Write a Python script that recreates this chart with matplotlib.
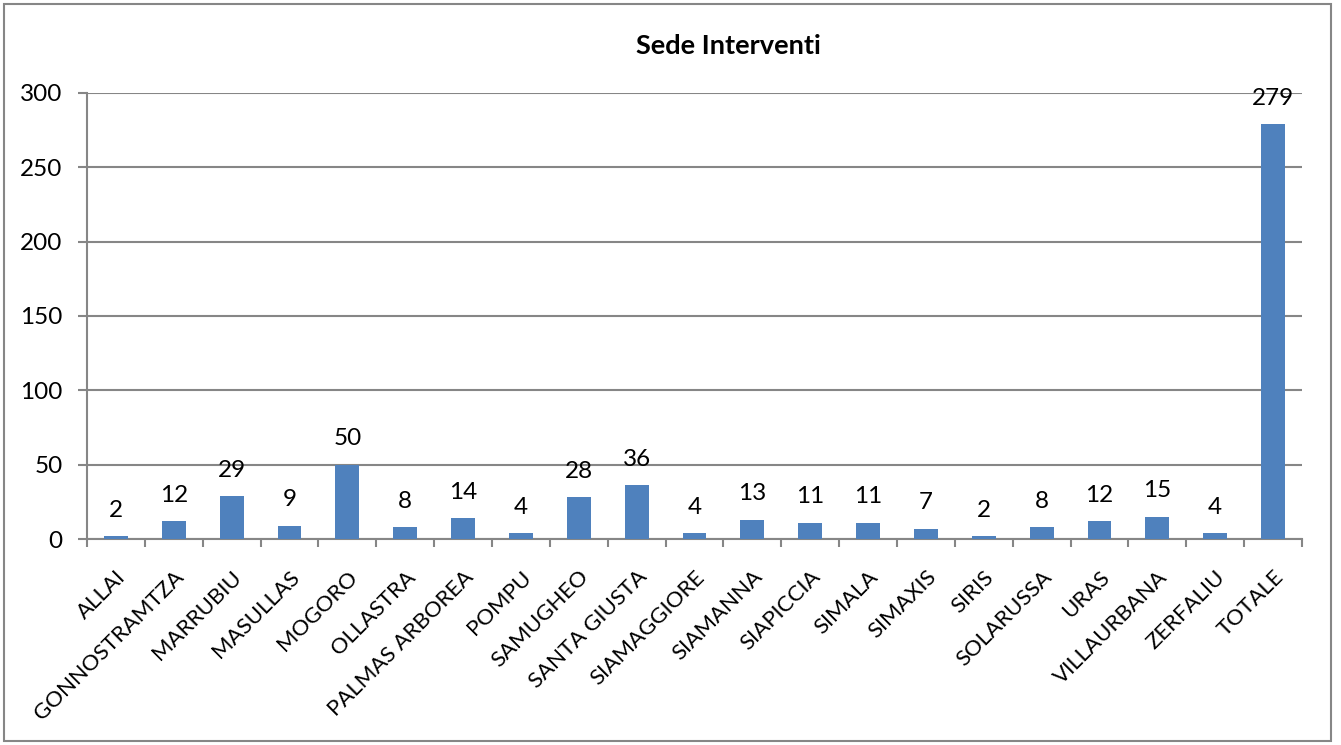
import matplotlib
matplotlib.use("Agg")
import matplotlib.pyplot as plt
from matplotlib.patches import Rectangle
import numpy as np

plt.rcParams['font.family'] = ['Lato', 'DejaVu Sans']

categories = ["ALLAI", "GONNOSTRAMTZA", "MARRUBIU", "MASULLAS", "MOGORO",
              "OLLASTRA", "PALMAS ARBOREA", "POMPU", "SAMUGHEO", "SANTA GIUSTA",
              "SIAMAGGIORE", "SIAMANNA", "SIAPICCIA", "SIMALA", "SIMAXIS",
              "SIRIS", "SOLARUSSA", "URAS", "VILLAURBANA", "ZERFALIU", "TOTALE"]
values = [2, 12, 29, 9, 50, 8, 14, 4, 28, 36, 4, 13, 11, 11, 7, 2, 8, 12, 15, 4, 279]
y_ticks = [0, 50, 100, 150, 200, 250, 300]
title = "Sede Interventi"

BAR = "#4F81BD"
GRID = "#868686"
FS = 17.5

fig = plt.figure(figsize=(13.41, 7.45), dpi=100)
W, H = 1341, 745
ax = fig.add_axes([87 / W, 1 - 539 / H, (1302 - 87) / W, (539 - 93) / H])

# outer chart frame
fig.patches.append(Rectangle((4 / W, 4 / H), (1331 - 4) / W, (741 - 4) / H,
                             transform=fig.transFigure, fill=False,
                             edgecolor=GRID, linewidth=1.5))

x = np.arange(len(categories))
ax.bar(x, values, width=0.41, color=BAR, zorder=3)

for xi, v in zip(x, values):
    ax.annotate(str(v), (xi, v), xytext=(0, 11), textcoords="offset points",
                ha="center", va="bottom", fontsize=FS, color="black", zorder=4)

ax.set_xlim(-0.5, len(categories) - 0.5)
ax.set_ylim(0, 300)
ax.set_yticks(y_ticks)
ax.yaxis.grid(True, color=GRID, linewidth=1.5, zorder=0)
ax.set_axisbelow(True)

for s in ["top", "right"]:
    ax.spines[s].set_visible(False)
for s in ["left", "bottom"]:
    ax.spines[s].set_color(GRID)
    ax.spines[s].set_linewidth(1.5)

ax.tick_params(axis="y", length=6.5, width=1.5, color=GRID, pad=11,
               labelsize=FS)

# category labels at bar centres, tick marks at category boundaries
ax.set_xticks(x)
ax.set_xticklabels(categories, rotation=45, ha="right", va="top",
                   rotation_mode="anchor", fontsize=16)
ax.tick_params(axis="x", which="major", length=0, pad=20)
ax.set_xticks(np.arange(-0.5, len(categories)), minor=True)
ax.tick_params(axis="x", which="minor", length=5.5, width=1.5, color=GRID)

fig.text(728 / W, 1 - 46 / H, title, ha="center", va="center",
         fontsize=19.5, fontweight="bold")

fig.savefig("out.png", dpi=100)
